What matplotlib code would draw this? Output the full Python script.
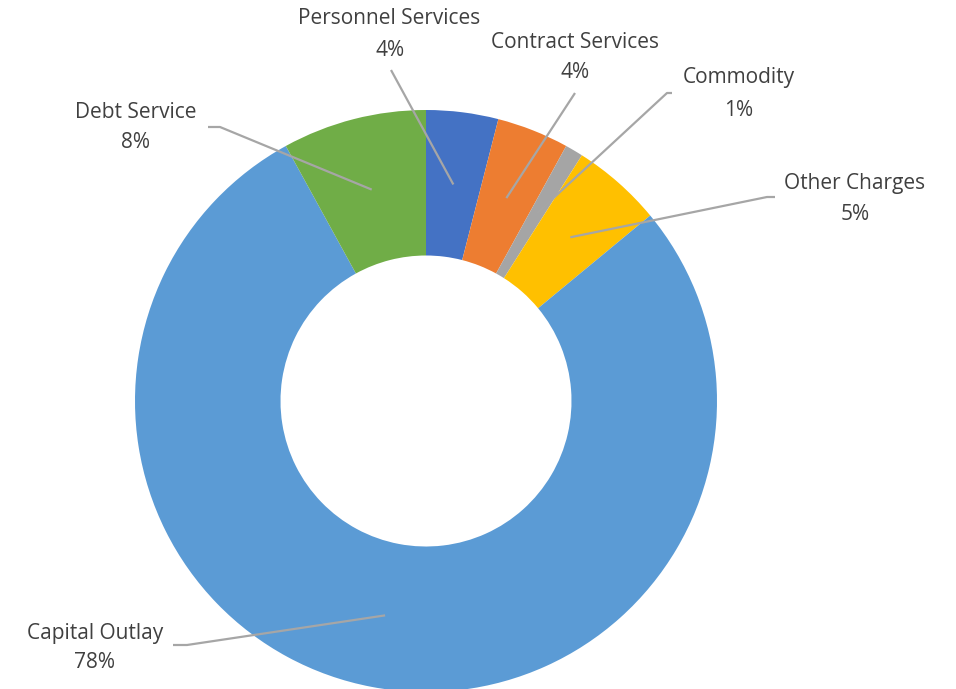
import numpy as np
import matplotlib
matplotlib.use("Agg")
import matplotlib.pyplot as plt

# budget share by category, clockwise from 12 o'clock
categories = ["Personnel Services", "Contract Services", "Commodity",
              "Other Charges", "Capital Outlay", "Debt Service"]
shares = [4, 4, 1, 5, 78, 8]
colors = ["#4472C4", "#ED7D31", "#A5A5A5", "#FFC000", "#5B9BD5", "#70AD47"]

W, H = 956, 689
cx, cy = 426, H - 401
R = 291

# label centres (name line, percent line) and leader line path, pixel coords with y down
name_pos = [(389, 18), (575, 42), (739, 78), (855, 183), (95, 633), (136, 112)]
pct_pos = [(390, 50), (575, 73), (739, 110), (855, 214), (95, 662), (136, 143)]
leader_pts = [
    [(391, 70)],
    [(575, 93)],
    [(667, 93), (672, 93)],
    [(767, 197), (775, 197)],
    [(187, 645), (173, 645)],
    [(220, 127), (208, 127)],
]

fig = plt.figure(figsize=(W / 100, H / 100), dpi=100)
ax = fig.add_axes([0, 0, 1, 1])

wedges, _ = ax.pie(shares, colors=colors, startangle=90, counterclock=False,
                   radius=R, center=(cx, cy),
                   wedgeprops=dict(width=R * 0.5, linewidth=0))
ax.set_xlim(0, W)
ax.set_ylim(0, H)
ax.set_aspect("equal")
ax.axis("off")

total = sum(shares)
txt = dict(ha="center", va="center", fontsize=15, color="#404040", family="Open Sans")
for i, w in enumerate(wedges):
    mid = np.deg2rad((w.theta1 + w.theta2) / 2)
    pts = [(cx + 0.75 * R * np.cos(mid), cy + 0.75 * R * np.sin(mid))]
    pts += [(x, H - y) for x, y in leader_pts[i]]
    xs, ys = zip(*pts)
    ax.plot(xs, ys, color="#A6A6A6", lw=1.6, solid_capstyle="butt")

    pct = round(100 * shares[i] / total)
    ax.text(name_pos[i][0], H - name_pos[i][1], categories[i], **txt)
    ax.text(pct_pos[i][0], H - pct_pos[i][1], f"{pct}%", **txt)

fig.savefig("out.png", dpi=100, facecolor="white")
